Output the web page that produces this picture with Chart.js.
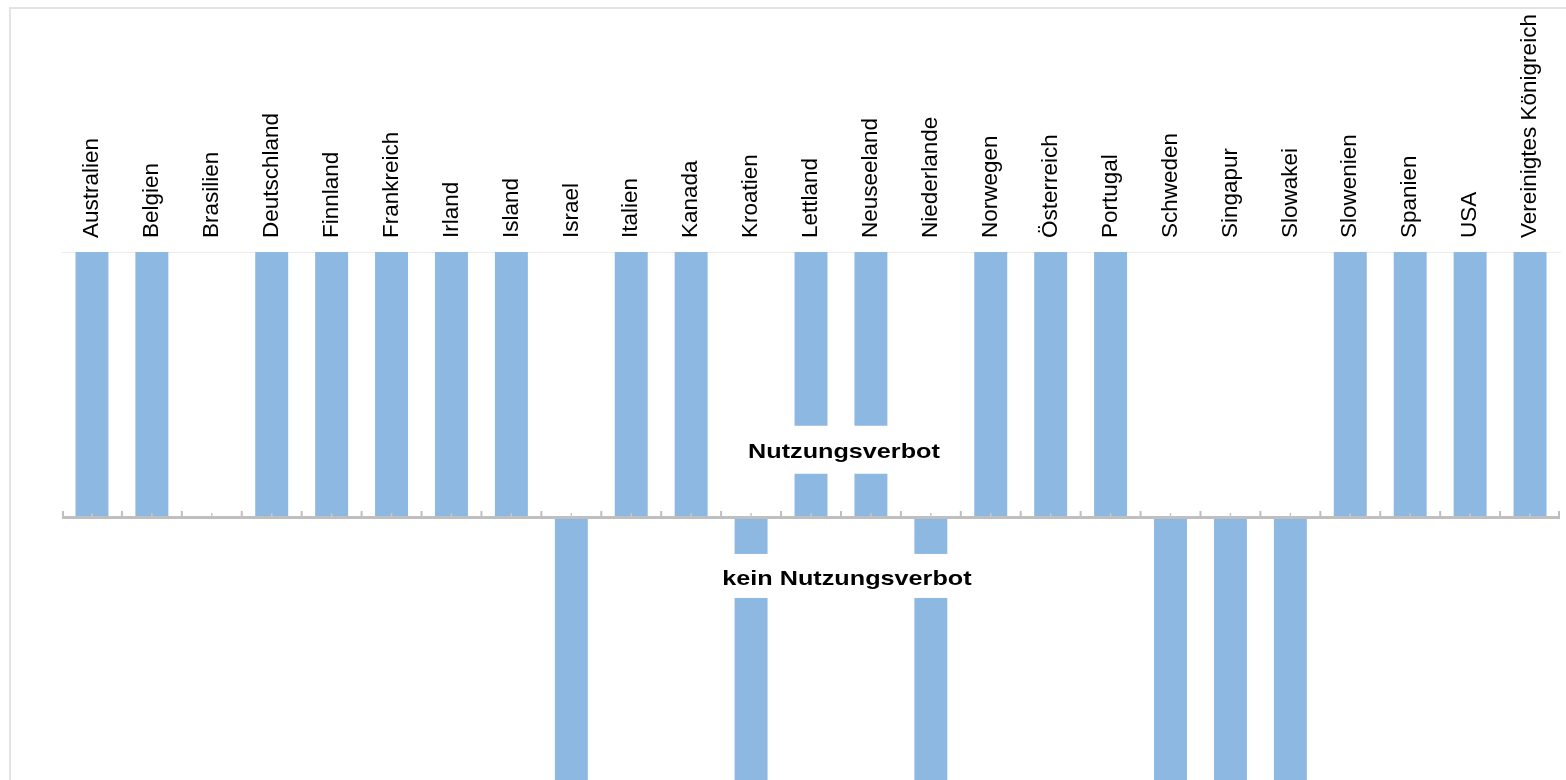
<!DOCTYPE html>
<html>
<head>
<meta charset="utf-8">
<script src="https://cdn.jsdelivr.net/npm/chart.js@4"></script>
<style>
  html, body { margin: 0; padding: 0; background: #fff; overflow: hidden; }
  #frame { position: absolute; left: 9px; top: 7px; width: 1600px; height: 800px;
           border-left: 2px solid #e3e3e3; border-top: 2px solid #e3e3e3; }
  #wrap { position: absolute; left: 0; top: 0; width: 1566px; height: 790px; }
</style>
</head>
<body>
<div id="frame"></div>
<div id="wrap"><canvas id="verbot" width="1566" height="790"></canvas></div>
<script>
const laender = ["Australien", "Belgien", "Brasilien", "Deutschland", "Finnland", "Frankreich",
  "Irland", "Island", "Israel", "Italien", "Kanada", "Kroatien", "Lettland", "Neuseeland",
  "Niederlande", "Norwegen", "Österreich", "Portugal", "Schweden", "Singapur", "Slowakei",
  "Slowenien", "Spanien", "USA", "Vereinigtes Königreich"];
// 1 = Nutzungsverbot, -1 = kein Nutzungsverbot, 0 = keine Angabe
const verbot = [1, 1, 0, 1, 1, 1, 1, 1, -1, 1, 1, -1, 1, 1, -1, 1, 1, 1, -1, -1, -1, 1, 1, 1, 1];
const beschriftungen = ["Nutzungsverbot", "kein Nutzungsverbot"];

// Achse bei Null mit Teilstrichen nach oben, plus die beiden Bereichstexte
const achseUndTexte = {
  id: "achseUndTexte",
  afterDatasetsDraw(chart) {
    const { ctx, chartArea, scales: { x, y } } = chart;
    const y0 = y.getPixelForValue(0);
    ctx.save();

    // Bereichstexte mit weißem Hintergrund
    const texte = [
      { text: beschriftungen[0], xi: 12.55, yv: 0.25, oben: 25, unten: 23 },
      { text: beschriftungen[1], xi: 12.6, yv: -0.23, oben: 24, unten: 20 }
    ];
    ctx.font = "bold 21px 'Liberation Sans', Arial, sans-serif";
    ctx.textAlign = "center";
    ctx.textBaseline = "middle";
    texte.forEach(t => {
      const cx = x.getPixelForValue(t.xi);
      const cy = y.getPixelForValue(t.yv);
      const w = ctx.measureText(t.text).width * 1.2;
      ctx.fillStyle = "#ffffff";
      ctx.fillRect(cx - w / 2 - 22, cy - t.oben, w + 44, t.oben + t.unten);
      ctx.save();
      ctx.translate(cx, cy);
      ctx.scale(1.2, 1);
      ctx.fillStyle = "#000000";
      ctx.fillText(t.text, 0, 1);
      ctx.restore();
    });

    // Nulllinie
    ctx.strokeStyle = "#bfbfbf";
    ctx.lineWidth = 3;
    ctx.beginPath();
    ctx.moveTo(chartArea.left, y0 + 0.5);
    ctx.lineTo(chartArea.right, y0 + 0.5);
    ctx.stroke();

    // Teilstriche an den Kategoriegrenzen
    ctx.lineWidth = 2;
    for (let i = 0; i <= laender.length; i++) {
      let px;
      if (i === 0) px = chartArea.left + 1;
      else if (i === laender.length) px = chartArea.right - 1;
      else px = (x.getPixelForValue(i - 1) + x.getPixelForValue(i)) / 2;
      ctx.beginPath();
      ctx.moveTo(px, y0);
      ctx.lineTo(px, y0 - 6);
      ctx.stroke();
    }
    // kleine Teilstriche in der Kategoriemitte
    ctx.strokeStyle = "#c8c8c8";
    ctx.lineWidth = 1.5;
    for (let i = 0; i < laender.length; i++) {
      const px = x.getPixelForValue(i);
      ctx.beginPath();
      ctx.moveTo(px, y0);
      ctx.lineTo(px, y0 - 4);
      ctx.stroke();
    }
    ctx.restore();
  }
};

new Chart(document.getElementById("verbot"), {
  type: "bar",
  data: {
    labels: laender,
    datasets: [
      {
        label: "Nutzungsverbot",
        data: verbot,
        backgroundColor: "#8db8e2",
        barPercentage: 0.55,
        categoryPercentage: 1.0
      }
    ]
  },
  options: {
    responsive: false,
    animation: false,
    layout: { padding: { left: 62, right: 6, top: 0, bottom: 8 } },
    plugins: {
      legend: { display: false },
      tooltip: { enabled: false }
    },
    scales: {
      x: {
        position: "top",
        grid: { display: false, drawTicks: false },
        border: { display: true, color: "#ececec", width: 1 },
        ticks: {
          autoSkip: false,
          minRotation: 90,
          maxRotation: 90,
          padding: 14,
          labelOffset: 27,
          color: "#000000",
          font: { family: "'Liberation Sans', Arial, sans-serif", size: 22.5 }
        },
        afterFit: s => { s.height = 252; }
      },
      y: {
        display: false,
        min: -1,
        max: 1
      }
    }
  },
  plugins: [achseUndTexte]
});
</script>
</body>
</html>
